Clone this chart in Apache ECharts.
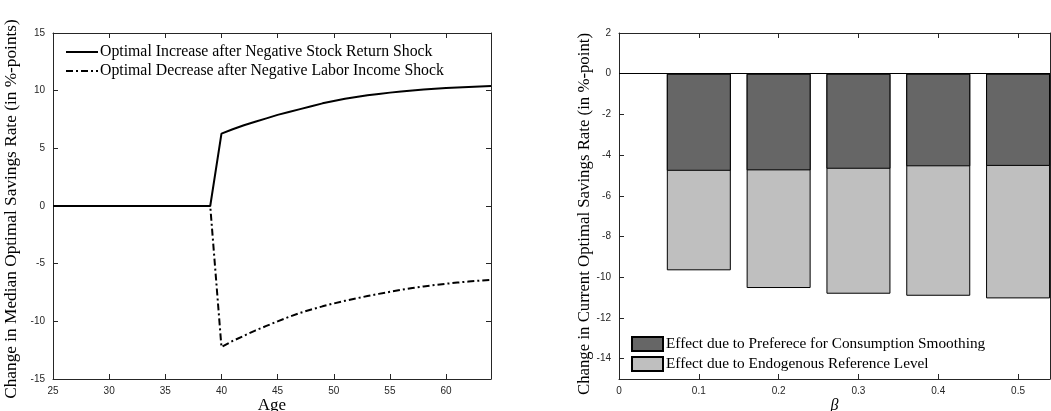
<!DOCTYPE html>
<html>
<head>
<meta charset="utf-8">
<script src="https://cdn.jsdelivr.net/npm/echarts@6/dist/echarts.min.js"></script>
<style>html,body{margin:0;padding:0;background:#fff;}#c{width:1051px;height:411px;}</style>
</head>
<body>
<div id="c"></div>
<script>
var ages = [25,26,27,28,29,30,31,32,33,34,35,36,37,38,39,40,41,42,43,44,45,46,47,48,49,50,51,52,53,54,55,56,57,58,59,60,61,62,63,64];
var stockShock = [0,0,0,0,0,0,0,0,0,0,0,0,0,0,0,
  6.27,6.65,7.0,7.3,7.6,7.9,8.15,8.4,8.65,8.9,9.1,9.3,9.45,9.6,9.72,9.83,9.93,10.02,10.1,10.17,10.23,10.28,10.32,10.36,10.4];
var laborShock = [0,0,0,0,0,0,0,0,0,0,0,0,0,0,0,
  -12.23,-11.7,-11.25,-10.8,-10.4,-10.0,-9.62,-9.27,-8.97,-8.7,-8.45,-8.22,-8.01,-7.81,-7.62,-7.44,-7.27,-7.11,-6.97,-6.85,-6.74,-6.64,-6.55,-6.47,-6.4];
var betas = [0.1,0.2,0.3,0.4,0.5];
// dark part (preference for consumption smoothing), read at the boundary between the two shades
var smoothing = [-4.77,-4.75,-4.67,-4.55,-4.53];
// bottom of each full bar (smoothing + endogenous reference level)
var totals = [-9.66,-10.53,-10.81,-10.91,-11.04];
var leftTicks = [-15,-10,-5,0,5,10,15];
var rightTicks = [-14,-12,-10,-8,-6,-4,-2,0,2];

var lineNames = ['Optimal Increase after Negative Stock Return Shock','Optimal Decrease after Negative Labor Income Shock'];
var barNames = ['Effect due to Preferece for Consumption Smoothing','Effect due to Endogenous Reference Level'];

function pairs(xs, ys){ return xs.map(function(x,i){ return [x, ys[i]]; }); }

var axisCol = '#262626';
var serif = 'Liberation Serif';
var sans = 'Liberation Sans';
var tickLbl = {color: axisCol, fontFamily: sans, fontSize: 10};
var aLine = {show: true, onZero: false, lineStyle: {color: axisCol, width: 1}};
var aTickIn = {show: true, inside: true, length: 5, lineStyle: {color: axisCol, width: 1}};

var chart = echarts.init(document.getElementById('c'), null, {renderer: 'canvas'});
var option = {
  animation: false,
  backgroundColor: '#fff',
  grid: [
    {left: 53, top: 33, width: 438, height: 346, containLabel: false, outerBoundsMode: 'none'},
    {left: 619, top: 33, width: 431, height: 346, containLabel: false, outerBoundsMode: 'none'}
  ],
  legend: [
    {orient: 'vertical', left: 65, top: 44, padding: 0, itemGap: 3, itemWidth: 32, itemHeight: 15,
     itemStyle: {opacity: 0},
     data: lineNames, textStyle: {fontFamily: serif, fontSize: 15.8, color: '#000', padding: [0,0,0,-3]}},
    {orient: 'vertical', left: 631, top: 336, padding: 0, itemGap: 4, itemWidth: 31, itemHeight: 14, icon: 'rect',
     data: barNames, textStyle: {fontFamily: serif, fontSize: 15.3, color: '#000', padding: [0,0,0,-2]}}
  ],
  xAxis: [
    {gridIndex: 0, type: 'value', min: 25, max: 64, interval: 5, position: 'bottom',
     axisLine: aLine, axisTick: aTickIn, splitLine: {show: false},
     axisLabel: Object.assign({margin: 7, showMaxLabel: false}, tickLbl),
     name: 'Age', nameLocation: 'middle', nameGap: 18, nameMoveOverlap: false,
     nameTextStyle: {fontFamily: serif, fontSize: 17, color: '#000'}},
    {gridIndex: 0, type: 'value', min: 25, max: 64, interval: 5, position: 'top',
     axisLine: aLine, axisTick: aTickIn, axisLabel: {show: false}, splitLine: {show: false}},
    {gridIndex: 1, type: 'value', min: 0, max: 0.54, interval: 0.1, position: 'bottom',
     axisLine: aLine, axisTick: aTickIn, splitLine: {show: false},
     axisLabel: Object.assign({margin: 7, showMaxLabel: false, formatter: function(v){ return v === 0 ? '0' : (+v.toFixed(1)).toString(); }}, tickLbl),
     name: '\u03b2', nameLocation: 'middle', nameGap: 19, nameMoveOverlap: false,
     nameTextStyle: {fontFamily: serif, fontSize: 16, fontStyle: 'italic', color: '#000'}},
    {gridIndex: 1, type: 'value', min: 0, max: 0.54, interval: 0.1, position: 'top',
     axisLine: aLine, axisTick: aTickIn, axisLabel: {show: false}, splitLine: {show: false}}
  ],
  yAxis: [
    {gridIndex: 0, type: 'value', min: -15, max: 15, interval: 5, position: 'left',
     axisLine: aLine, axisTick: Object.assign({customValues: leftTicks}, aTickIn), splitLine: {show: false},
     axisLabel: Object.assign({margin: 8, customValues: leftTicks}, tickLbl),
     name: 'Change in Median Optimal Savings Rate (in %-points)', nameLocation: 'middle', nameGap: 33,
     nameTextStyle: {fontFamily: serif, fontSize: 17.3, color: '#000', padding: [0, 6, 0, 0]}},
    {gridIndex: 0, type: 'value', min: -15, max: 15, interval: 5, position: 'right',
     axisLine: aLine, axisTick: Object.assign({customValues: leftTicks}, aTickIn), axisLabel: {show: false}, splitLine: {show: false}},
    {gridIndex: 1, type: 'value', min: -15, max: 2, interval: 1, position: 'left',
     axisLine: aLine, axisTick: Object.assign({customValues: rightTicks}, aTickIn), splitLine: {show: false},
     axisLabel: Object.assign({margin: 8, customValues: rightTicks}, tickLbl),
     name: 'Change in Current Optimal Savings Rate (in %-point)', nameLocation: 'middle', nameGap: 26,
     nameTextStyle: {fontFamily: serif, fontSize: 16.8, color: '#000', padding: [0, 16, 0, 0]}},
    {gridIndex: 1, type: 'value', min: -15, max: 2, interval: 1, position: 'right',
     axisLine: aLine, axisTick: {show: false}, axisLabel: {show: false}, splitLine: {show: false}}
  ],
  series: [
    {name: lineNames[0], type: 'line', xAxisIndex: 0, yAxisIndex: 0, data: pairs(ages, stockShock),
     showSymbol: false, symbol: 'none', lineStyle: {color: '#000', width: 2, type: 'solid'}, itemStyle: {color: '#000'}},
    {name: lineNames[1], type: 'line', xAxisIndex: 0, yAxisIndex: 0, data: pairs(ages, laborShock),
     showSymbol: false, symbol: 'none', lineStyle: {color: '#000', width: 2, type: [7,3,2,3]}, itemStyle: {color: '#000'}},
    {name: barNames[1], type: 'bar', xAxisIndex: 2, yAxisIndex: 2, barWidth: 64, barGap: '-100%',
     data: pairs(betas, totals), itemStyle: {color: '#bfbfbf', borderColor: '#000', borderWidth: 1}},
    {name: barNames[0], type: 'bar', xAxisIndex: 2, yAxisIndex: 2, barWidth: 64, barGap: '-100%',
     data: pairs(betas, smoothing), itemStyle: {color: '#666666', borderColor: '#000', borderWidth: 1},
     markLine: {silent: true, symbol: ['none','none'], label: {show: false}, lineStyle: {color: '#000', width: 1, type: 'solid'},
       data: [{yAxis: 0}]}}
  ]
};
chart.setOption(option);
</script>
</body>
</html>
